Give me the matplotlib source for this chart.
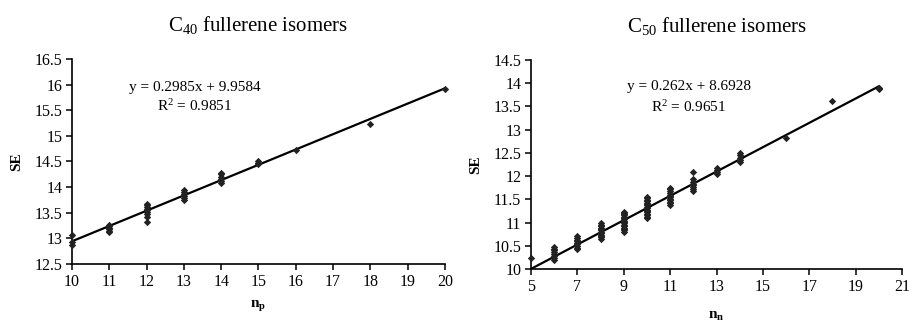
import numpy as np
import matplotlib.pyplot as plt

plt.rcParams['font.family'] = ['Liberation Serif', 'DejaVu Serif']
plt.rcParams['mathtext.fontset'] = 'custom'
plt.rcParams['mathtext.rm'] = 'Liberation Serif'
plt.rcParams['mathtext.it'] = 'Liberation Serif:italic'
plt.rcParams['mathtext.bf'] = 'Liberation Serif:bold'

# C40 isomers: number of pentagon adjacencies vs SE
c40_np = [10, 10, 10,
          11, 11, 11, 11, 11, 11,
          12, 12, 12, 12, 12, 12, 12, 12, 12,
          13, 13, 13, 13, 13, 13,
          14, 14, 14, 14, 14, 14,
          15, 15, 15,
          16, 18, 20]
c40_se = [12.88, 12.92, 13.07,
          13.12, 13.15, 13.18, 13.21, 13.24, 13.27,
          13.31, 13.42, 13.47, 13.52, 13.55, 13.58, 13.62, 13.65, 13.68,
          13.75, 13.78, 13.82, 13.86, 13.90, 13.94,
          14.08, 14.12, 14.15, 14.20, 14.25, 14.28,
          14.45, 14.48, 14.51,
          14.73, 15.24, 15.92]
c40_fit = (0.2985, 9.9584, 0.9851)

# C50 isomers
c50_nn = [5,
          6, 6, 6, 6, 6, 6, 6, 6,
          7, 7, 7, 7, 7, 7, 7, 7, 7,
          8, 8, 8, 8, 8, 8, 8, 8, 8, 8, 8, 8,
          9, 9, 9, 9, 9, 9, 9, 9, 9, 9, 9, 9, 9, 9, 9, 9,
          10, 10, 10, 10, 10, 10, 10, 10, 10, 10, 10, 10, 10, 10, 10, 10,
          11, 11, 11, 11, 11, 11, 11, 11, 11, 11, 11, 11,
          12, 12, 12, 12, 12, 12, 12, 12,
          13, 13, 13, 13,
          14, 14, 14, 14, 14,
          16, 18, 20, 20]
c50_se = [10.23,
          10.20, 10.24, 10.28, 10.32, 10.36, 10.40, 10.44, 10.48,
          10.42, 10.46, 10.50, 10.53, 10.56, 10.60, 10.63, 10.67, 10.70,
          10.65, 10.68, 10.71, 10.74, 10.77, 10.80, 10.83, 10.86, 10.89, 10.92, 10.95, 10.98,
          10.80, 10.83, 10.86, 10.89, 10.92, 10.95, 10.98, 11.01, 11.04, 11.07, 11.10, 11.13, 11.16, 11.19, 11.21, 11.23,
          11.10, 11.13, 11.16, 11.19, 11.22, 11.25, 11.28, 11.31, 11.34, 11.37, 11.40, 11.43, 11.46, 11.49, 11.52, 11.55,
          11.38, 11.42, 11.45, 11.48, 11.51, 11.54, 11.57, 11.60, 11.64, 11.68, 11.72, 11.75,
          11.68, 11.72, 11.76, 11.80, 11.84, 11.88, 11.93, 12.08,
          12.05, 12.09, 12.13, 12.18,
          12.30, 12.35, 12.40, 12.45, 12.50,
          12.83, 13.62, 13.87, 13.90]
c50_fit = (0.262, 8.6928, 0.9651)


def panel(ax, x, y, fit, title, xlabel, xlim, ylim, xticks, yticks, eq_pos, xlabelpad):
    ax.scatter(x, y, marker='D', s=14, color='#222222', zorder=3, linewidths=0, clip_on=False)
    xs = np.array([min(x), max(x)])
    ax.plot(xs, fit[0] * xs + fit[1], color='black', lw=1.6, zorder=2)
    ax.set_xlim(*xlim)
    ax.set_ylim(*ylim)
    ax.set_xticks(xticks)
    ax.set_yticks(yticks)
    ax.set_yticklabels(['%g' % v for v in yticks])
    for s in ['top', 'right']:
        ax.spines[s].set_visible(False)
    for s in ['left', 'bottom']:
        ax.spines[s].set_linewidth(1.2)
    ax.tick_params(direction='out', length=4, width=1.1, labelsize=11.5, pad=3)
    ax.set_title(title, fontsize=15, pad=20)
    ax.set_ylabel('SE', fontsize=11, fontweight='bold', labelpad=8)
    ax.set_xlabel(xlabel, fontsize=11, labelpad=xlabelpad)
    ax.text(eq_pos[0], eq_pos[1], 'y = %gx + %g' % (fit[0], fit[1]),
            ha='center', va='center', fontsize=11)
    ax.text(eq_pos[0], eq_pos[2], 'R$^2$ = %g' % fit[2],
            ha='center', va='center', fontsize=11)


fig = plt.figure(figsize=(9.09, 3.22), dpi=100)
ax1 = fig.add_axes([0.0792, 0.1801, 0.4103, 0.6367])
ax2 = fig.add_axes([0.5842, 0.1646, 0.4081, 0.6490])

panel(ax1, c40_np, c40_se, c40_fit, 'C$_{40}$ fullerene isomers', r'$\mathbf{n_p}$',
      (10, 20), (12.5, 16.5), range(10, 21), np.arange(12.5, 16.6, 0.5),
      (13.3, 15.95, 15.58), 6)
panel(ax2, c50_nn, c50_se, c50_fit, 'C$_{50}$ fullerene isomers', r'$\mathbf{n_n}$',
      (5, 21), (10, 14.5), range(5, 22, 2), np.arange(10, 14.6, 0.5),
      (11.8, 13.92, 13.49), 11)

fig.savefig('out.png', dpi=100)
